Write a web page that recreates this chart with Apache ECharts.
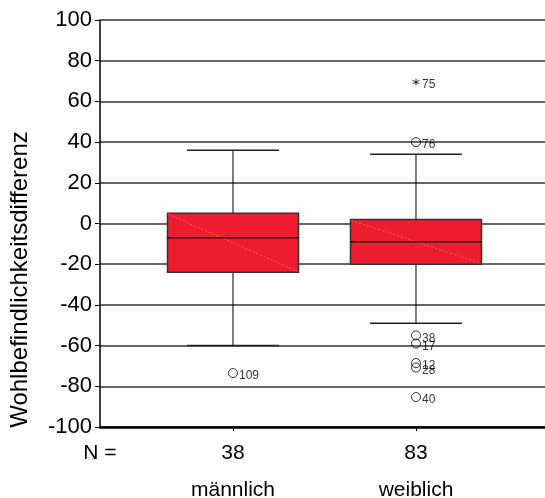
<!DOCTYPE html>
<html>
<head>
<meta charset="utf-8">
<script src="https://cdn.jsdelivr.net/npm/echarts@6/dist/echarts.min.js"></script>
<style>
  html, body { margin: 0; padding: 0; background: #fff; }
  #chart { width: 545px; height: 498px; }
</style>
</head>
<body>
<div id="chart"></div>
<script>
// Groups and group sizes
const categories = ['männlich', 'weiblich'];
const counts = [38, 83];

// Box statistics per group
const whiskerLow = [-60, -49];
const q1 = [-24, -20];
const median = [-7, -9];
const q3 = [5, 2];
const whiskerHigh = [36, 34];

// Outliers (circles): group position, value, case number
const outlierGroup = [1, 2, 2, 2, 2, 2, 2];
const outlierValues = [-73.5, 40, -55, -59, -68.6, -70.8, -85.3];
const outlierIds = ['109', '76', '38', '17', '12', '28', '40'];

// Extreme values (asterisks)
const extremeGroup = [2];
const extremeValues = [69.5];
const extremeIds = ['75'];

// Y axis ticks
const yMin = -100, yMax = 100, yStep = 20;

// X extent around the two group positions
const xMin = 0.2732, xMax = 2.705;

const FONT = '"Liberation Sans", Arial, sans-serif';
const BOX_HALF = 0.358;
const CAP_HALF = 0.251;

const boxData = categories.map((c, i) =>
  [i + 1, whiskerLow[i], q1[i], median[i], q3[i], whiskerHigh[i]]);
const outlierData = outlierValues.map((v, i) => [outlierGroup[i], v, outlierIds[i]]);
const extremeData = extremeValues.map((v, i) => [extremeGroup[i], v, extremeIds[i]]);

function renderBox(params, api) {
  const x = api.value(0);
  const pLow = api.coord([x, api.value(1)]);
  const pQ1 = api.coord([x, api.value(2)]);
  const pMed = api.coord([x, api.value(3)]);
  const pQ3 = api.coord([x, api.value(4)]);
  const pHigh = api.coord([x, api.value(5)]);
  const left = api.coord([x - BOX_HALF, 0])[0];
  const right = api.coord([x + BOX_HALF, 0])[0];
  const capL = api.coord([x - CAP_HALF, 0])[0];
  const capR = api.coord([x + CAP_HALF, 0])[0];
  const cx = pMed[0];
  return {
    type: 'group',
    children: [
      { type: 'line', shape: { x1: cx, y1: pHigh[1], x2: cx, y2: pQ3[1] },
        style: { stroke: '#000', lineWidth: 1 } },
      { type: 'line', shape: { x1: cx, y1: pQ1[1], x2: cx, y2: pLow[1] },
        style: { stroke: '#000', lineWidth: 1 } },
      { type: 'line', shape: { x1: capL, y1: pHigh[1], x2: capR, y2: pHigh[1] },
        style: { stroke: '#222', lineWidth: 1.5 } },
      { type: 'line', shape: { x1: capL, y1: pLow[1], x2: capR, y2: pLow[1] },
        style: { stroke: '#222', lineWidth: 1.5 } },
      { type: 'rect', shape: { x: left, y: pQ3[1], width: right - left, height: pQ1[1] - pQ3[1] },
        style: { fill: '#ED1C2E', stroke: '#333', lineWidth: 1.5 } },
      { type: 'line', shape: { x1: left + 1, y1: pQ3[1] + 1, x2: right - 1, y2: pQ1[1] - 1 },
        style: { stroke: 'rgba(255,140,150,0.6)', lineWidth: 1, lineDash: [2, 2] } },
      { type: 'line', shape: { x1: left, y1: pMed[1], x2: right, y2: pMed[1] },
        style: { stroke: '#111', lineWidth: 1.5 } }
    ]
  };
}

const chart = echarts.init(document.getElementById('chart'), null, { renderer: 'canvas' });

chart.setOption({
  backgroundColor: '#fff',
  animation: false,
  grid: { left: 100, right: 0, top: 20, bottom: 71, containLabel: false, outerBoundsMode: 'none' },
  xAxis: {
    type: 'value',
    min: xMin,
    max: xMax,
    splitLine: { show: false },
    axisLine: { show: true, onZero: false, lineStyle: { color: '#000', width: 2.5 } },
    axisTick: { show: true, customValues: [1, 2], length: 4, lineStyle: { color: '#000', width: 1 } },
    axisLabel: {
      show: true,
      customValues: [xMin, 1, 2],
      showMinLabel: true,
      margin: 11,
      formatter: function (v) {
        if (Math.abs(v - 1) < 1e-6) return '{n|' + counts[0] + '}\n{c|' + categories[0] + '}';
        if (Math.abs(v - 2) < 1e-6) return '{n|' + counts[1] + '}\n{c|' + categories[1] + '}';
        return '{n|N =}\n{c| }';
      },
      rich: {
        n: { fontSize: 21, fontFamily: FONT, color: '#000', lineHeight: 30 },
        c: { fontSize: 21, fontFamily: FONT, color: '#000', lineHeight: 44 }
      }
    }
  },
  yAxis: {
    type: 'value',
    min: yMin,
    max: yMax,
    interval: yStep,
    name: 'Wohlbefindlichkeitsdifferenz',
    nameLocation: 'middle',
    nameRotate: 90,
    nameGap: 68,
    nameTextStyle: { fontSize: 24, fontFamily: FONT, color: '#000', padding: [0, 112, 0, 0] },
    axisLine: { show: true, onZero: false, lineStyle: { color: '#000', width: 1.5 } },
    axisTick: { show: true, inside: false, length: 5, lineStyle: { color: '#000', width: 1 } },
    axisLabel: { fontSize: 22, fontFamily: FONT, color: '#000', margin: 8 },
    splitLine: { show: true, lineStyle: { color: '#333', width: 1.5 } }
  },
  series: [
    {
      type: 'custom',
      renderItem: renderBox,
      encode: { x: 0, y: [1, 2, 3, 4, 5] },
      data: boxData,
      z: 3
    },
    {
      type: 'scatter',
      data: outlierData,
      symbol: 'circle',
      symbolSize: 9,
      itemStyle: { color: 'rgba(255,255,255,0)', borderColor: '#000', borderWidth: 1 },
      label: {
        show: true, position: 'right', distance: 1, offset: [0, 3],
        formatter: p => p.data[2], fontSize: 12, fontFamily: FONT, color: '#000'
      },
      z: 4
    },
    {
      type: 'scatter',
      data: extremeData,
      symbol: 'path://M0,-5L0,5M-4.33,-2.5L4.33,2.5M-4.33,2.5L4.33,-2.5',
      symbolSize: 7,
      itemStyle: { color: 'rgba(0,0,0,0)', borderColor: '#000', borderWidth: 1 },
      label: {
        show: true, position: 'right', distance: 2, offset: [0, 3],
        formatter: p => p.data[2], fontSize: 12, fontFamily: FONT, color: '#000'
      },
      z: 4
    }
  ]
});
</script>
</body>
</html>
